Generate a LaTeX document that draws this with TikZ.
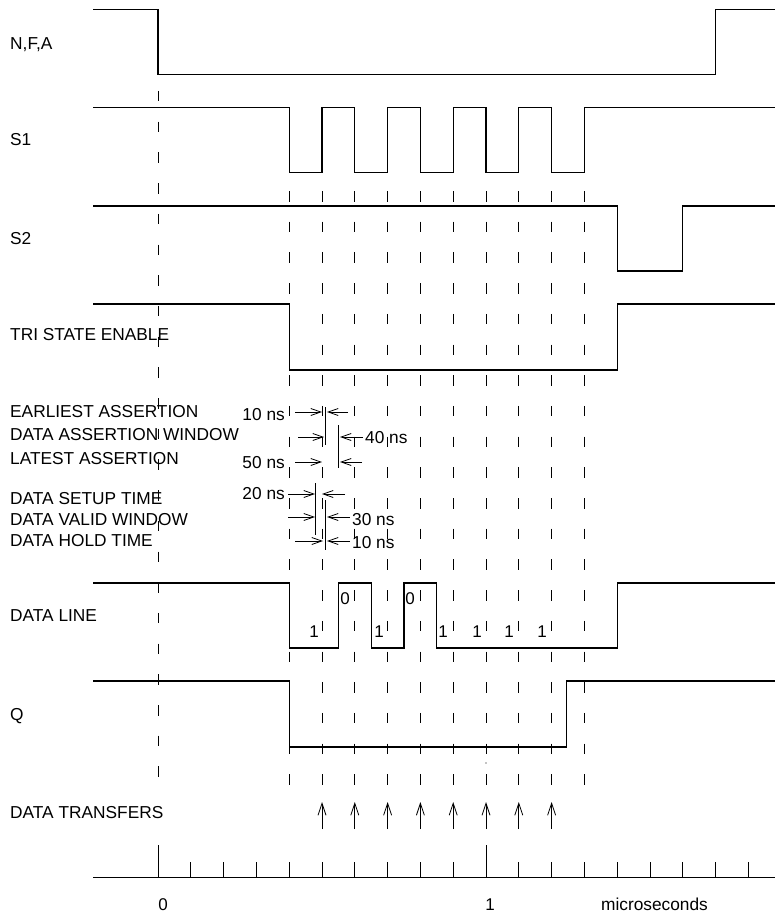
\documentclass[tikz,border=0pt]{standalone}
\usepackage{fontspec}
\setmainfont{Liberation Sans}
\usetikzlibrary{arrows.meta}
\begin{document}
\begin{tikzpicture}[x=1pt,y=-1pt,
  sig/.style={line width=1.1pt, line join=miter},
  gridln/.style={line width=0.9pt, dash pattern=on 10.5pt off 20.2pt},
  lab/.style={font=\fontsize{17.3}{17.3}\selectfont, inner sep=0pt, anchor=base west},
  labr/.style={font=\fontsize{17.3}{17.3}\selectfont, inner sep=0pt, anchor=base east},
  bit/.style={font=\fontsize{17}{17}\selectfont, inner sep=0pt, anchor=center},
  dimarr/.style={line width=0.8pt, -{Straight Barb[length=10pt,width=7pt]}},
  xfer/.style={line width=0.8pt, -{Straight Barb[length=12pt,width=8pt]}},
  markln/.style={line width=0.9pt},
  axisln/.style={line width=1.1pt}]
\useasboundingbox (0,0) rectangle (775,915);

% dashed reference lines
\draw[gridln] (158,91) -- (158,786);
\foreach \x [count=\i] in {289.2,322,354.8,387.6,420.4,453.2,486,518.8,551.6,584.4}
  \draw[gridln] (\x,191) -- (\x,786);

% signals
\draw[sig] (93,9.5) -- (158,9.5) -- (158,74.5) -- (715.6,74.5) -- (715.6,9.5) -- (775,9.5);
\draw[sig] (93,107.7) -- (289.2,107.7) -- (289.2,172.5) -- (322,172.5) -- (322,107.7)
  -- (354.8,107.7) -- (354.8,172.5) -- (387.6,172.5) -- (387.6,107.7)
  -- (420.4,107.7) -- (420.4,172.5) -- (453.2,172.5) -- (453.2,107.7)
  -- (486,107.7) -- (486,172.5) -- (518.8,172.5) -- (518.8,107.7)
  -- (551.6,107.7) -- (551.6,172.5) -- (584.4,172.5) -- (584.4,107.7) -- (775,107.7);
\draw[sig] (93,206) -- (617.2,206) -- (617.2,271) -- (682.8,271) -- (682.8,206) -- (775,206);
\draw[sig] (93,304) -- (289.2,304) -- (289.2,370) -- (617.2,370) -- (617.2,304) -- (775,304);
\draw[sig] (93,583) -- (289.2,583) -- (289.2,648) -- (338.4,648) -- (338.4,583)
  -- (371.2,583) -- (371.2,648) -- (404,648) -- (404,583) -- (436.8,583)
  -- (436.8,648) -- (617.2,648) -- (617.2,583) -- (775,583);
\draw[sig] (93,681) -- (289.2,681) -- (289.2,747) -- (566.4,747) -- (566.4,681) -- (775,681);
\fill (486,763) circle (0.6);

% signal labels
\node[lab] (lnfa) at (10,50) {N,F,A};
\node[lab] (ls1) at (10,146) {S1};
\node[lab] (ls2) at (10,244) {S2};
\node[lab] (ltri) at (10,340) {TRI STATE ENABLE};
\node[lab] (lea) at (10,417) {EARLIEST ASSERTION};
\node[lab] (ldaw) at (10,440) {DATA ASSERTION WINDOW};
\node[lab] (lla) at (10,464.5) {LATEST ASSERTION};
\node[lab] (ldst) at (10,504) {DATA SETUP TIME};
\node[lab] (ldvw) at (10,525) {DATA VALID WINDOW};
\node[lab] (ldht) at (10,546.5) {DATA HOLD TIME};
\node[lab] (ldl) at (10,621) {DATA LINE};
\node[lab] (lq) at (10,720) {Q};
\node[lab] (ldt) at (10,818) {DATA TRANSFERS};

% assertion timing
\draw[markln] (325,407) -- (325,445);
\draw[markln] (338.4,425) -- (338.4,468);
\draw[dimarr] (295,412) -- (322,412);
\draw[dimarr] (348,412) -- (327,412);
\draw[dimarr] (298,437) -- (324,437);
\draw[dimarr] (363,437) -- (340,437);
\draw[dimarr] (295,462) -- (322,462);
\draw[dimarr] (362,462) -- (340,462);
\node[labr] (t10a) at (285,420) {10 ns};
\node[lab] (t40) at (365,443.5) {40 ns};
\node[labr] (t50) at (285,468.5) {50 ns};

% setup / hold timing
\draw[markln] (315.5,483) -- (315.5,535);
\draw[markln] (325.5,500) -- (325.5,550);
\draw[dimarr] (288,494) -- (315,494);
\draw[dimarr] (345,494) -- (322,494);
\draw[dimarr] (288,517) -- (315,517);
\draw[dimarr] (350,517) -- (327,517);
\draw[dimarr] (295,541) -- (323,541);
\draw[dimarr] (350,541) -- (327,541);
\node[labr] (t20) at (285,499) {20 ns};
\node[lab] (t30) at (352,525) {30 ns};
\node[lab] (t10b) at (352,548.5) {10 ns};

% data bits
\foreach \x [count=\i] in {314,379,443,477,509,542}
  \node[bit] (one\i) at (\x,632) {1};
\node[bit] (zero1) at (345,599) {0};
\node[bit] (zero2) at (410,599) {0};

% data transfer arrows
\foreach \x [count=\i] in {322,354.8,387.6,420.4,453.2,486,518.8,551.6}
  \draw[xfer] (\x,829) -- (\x,802);

% time axis
\draw[axisln] (93,877.7) -- (775,877.7);
\foreach \i in {1,...,9,11,12,13,14,15,16,17,18}
  \draw[markln] ({158+32.8*\i},877.7) -- ({158+32.8*\i},862);
\draw[markln] (158,877.7) -- (158,845);
\draw[markln] (486,877.7) -- (486,845);
\node[bit] (ax0) at (163,904.5) {0};
\node[bit] (ax1) at (490,904.5) {1};
\node[bit, font=\fontsize{17.3}{17.3}\selectfont] (axu) at (654.5,904.5) {microseconds};
\end{tikzpicture}
\end{document}
